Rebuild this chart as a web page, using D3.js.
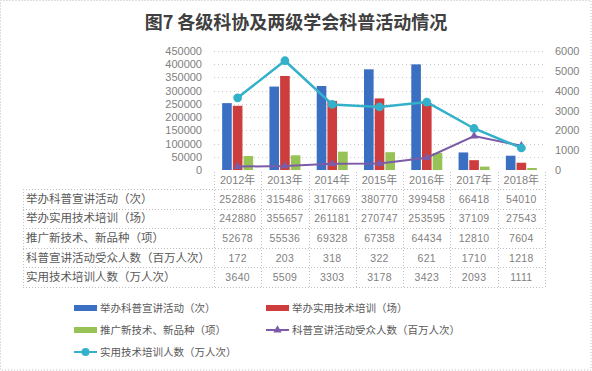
<!DOCTYPE html>
<html>
<head>
<meta charset="utf-8">
<script src="https://cdn.jsdelivr.net/npm/d3@7"></script>
<style>
  body { margin: 0; background: #fff; }
  svg { display: block; font-family: "Liberation Sans", "Noto Sans CJK SC", sans-serif; }
</style>
</head>
<body>
<div id="chart"></div>
<script>
const years = ['2012年', '2013年', '2014年', '2015年', '2016年', '2017年', '2018年'];
const seriesNames = [
  '举办科普宣讲活动（次）',
  '举办实用技术培训（场）',
  '推广新技术、新品种（项）',
  '科普宣讲活动受众人数（百万人次）',
  '实用技术培训人数（万人次）'
];
const lectures = [252886, 315486, 317669, 380770, 399458, 66418, 54010];
const trainings = [242880, 355657, 261181, 270747, 253595, 37109, 27543];
const newTech = [52678, 55536, 69328, 67358, 64434, 12810, 7604];
const audience = [172, 203, 318, 322, 621, 1710, 1218];
const trainees = [3640, 5509, 3303, 3178, 3423, 2093, 1111];
const leftTicks = [0, 50000, 100000, 150000, 200000, 250000, 300000, 350000, 400000, 450000];
const rightTicks = [0, 1000, 2000, 3000, 4000, 5000, 6000];

const colors = ['#3b6fc2', '#cd3d3d', '#97c255', '#7c5ca8', '#33b1ca'];
const barSeries = [lectures, trainings, newTech];
const lineSeries = [audience, trainees];
const tableRows = [lectures, trainings, newTech, audience, trainees];

const W = 592, H = 371;
const svg = d3.select('#chart').append('svg').attr('width', W).attr('height', H);

// outer dotted frame
svg.append('rect')
  .attr('x', 0.5).attr('y', 0.5).attr('width', W - 1.5).attr('height', H - 1.5)
  .attr('fill', 'none').attr('stroke', '#bfbfbf').attr('stroke-dasharray', '1,2');

svg.append('text')
  .attr('x', 296).attr('y', 29)
  .attr('text-anchor', 'middle')
  .attr('font-family', '"Noto Sans CJK SC", sans-serif')
  .attr('font-size', 18).attr('font-weight', 'bold').attr('fill', '#404040')
  .text('图7 各级科协及两级学会科普活动情况');

const x = d3.scaleBand().domain(years).range([214, 545]);
const yL = d3.scaleLinear().domain([0, 450000]).range([170, 51]);
const yR = d3.scaleLinear().domain([0, 6000]).range([170, 51]);
const xs = d3.scaleBand().domain(d3.range(barSeries.length))
  .range([x.bandwidth() / 2 - 15.5, x.bandwidth() / 2 + 15.5]).paddingInner(0.1);

// gridlines
svg.append('g').selectAll('line').data(leftTicks.slice(1)).join('line')
  .attr('x1', 214).attr('x2', 545)
  .attr('y1', d => Math.round(yL(d)) + 0.5).attr('y2', d => Math.round(yL(d)) + 0.5)
  .attr('stroke', '#c8c8c8').attr('stroke-dasharray', '1,3');

// axes
const gl = svg.append('g').attr('transform', 'translate(205,0)')
  .call(d3.axisLeft(yL).tickValues(leftTicks).tickSize(0).tickPadding(3).tickFormat(d3.format('d')));
const gr = svg.append('g').attr('transform', 'translate(552,0)')
  .call(d3.axisRight(yR).tickValues(rightTicks).tickSize(0).tickPadding(3).tickFormat(d3.format('d')));
[gl, gr].forEach(g => {
  g.select('.domain').remove();
  g.selectAll('text').attr('fill', '#7f7f7f').attr('font-size', 11)
    .attr('font-family', '"Liberation Sans", sans-serif');
});

// bars
barSeries.forEach((vals, i) => {
  svg.append('g').selectAll('rect').data(vals).join('rect')
    .attr('x', (d, j) => x(years[j]) + xs(i))
    .attr('y', d => yL(d))
    .attr('width', xs.bandwidth())
    .attr('height', d => yL(0) - yL(d))
    .attr('fill', colors[i]);
});

// lines
const markers = [d3.symbolTriangle, d3.symbolCircle];
lineSeries.forEach((vals, i) => {
  const c = colors[3 + i];
  const line = d3.line().x((d, j) => x(years[j]) + x.bandwidth() / 2).y(d => yR(d));
  svg.append('path').datum(vals)
    .attr('d', line).attr('fill', 'none').attr('stroke', c).attr('stroke-width', i === 0 ? 2 : 2.5);
  svg.append('g').selectAll('path').data(vals).join('path')
    .attr('transform', (d, j) => `translate(${x(years[j]) + x.bandwidth() / 2},${yR(d)})`)
    .attr('d', d3.symbol().type(markers[i]).size(i === 0 ? 30 : 60))
    .attr('fill', c);
});

// category labels
svg.append('g').selectAll('text').data(years).join('text')
  .attr('x', d => x(d) + x.bandwidth() / 2).attr('y', 184)
  .attr('text-anchor', 'middle').attr('font-size', 11).attr('fill', '#7f7f7f')
  .text(d => d);

// data table
const rowY = d3.scaleBand().domain(seriesNames).range([189, 287]);
const tbl = svg.append('g');
const hLines = seriesNames.map(n => rowY(n)).concat([rowY.range()[1]]);
tbl.selectAll('line.h').data(hLines).join('line')
  .attr('x1', 23).attr('x2', 545)
  .attr('y1', d => Math.round(d) + 0.5).attr('y2', d => Math.round(d) + 0.5)
  .attr('stroke', '#bfbfbf').attr('stroke-dasharray', '1,2');
const vLines = years.map(y => x(y)).concat([x.range()[1]]);
tbl.selectAll('line.v').data(vLines).join('line')
  .attr('x1', d => Math.round(d) + 0.5).attr('x2', d => Math.round(d) + 0.5)
  .attr('y1', 172).attr('y2', 287)
  .attr('stroke', '#bfbfbf').attr('stroke-dasharray', '1,2');
tbl.append('line').attr('x1', 23.5).attr('x2', 23.5).attr('y1', 189).attr('y2', 287)
  .attr('stroke', '#bfbfbf').attr('stroke-dasharray', '1,2');

tbl.selectAll('text.lbl').data(seriesNames).join('text')
  .attr('x', 26).attr('y', d => rowY(d) + rowY.bandwidth() / 2 + 4)
  .attr('font-family', '"Noto Sans CJK SC", sans-serif')
  .attr('font-size', 11.5).attr('fill', '#595959')
  .text(d => d);

tableRows.forEach((vals, i) => {
  tbl.append('g').selectAll('text').data(vals).join('text')
    .attr('x', (d, j) => x(years[j]) + x.bandwidth() / 2)
    .attr('y', rowY(seriesNames[i]) + rowY.bandwidth() / 2 + 4)
    .attr('text-anchor', 'middle').attr('font-size', 10.5).attr('fill', '#7f7f7f')
    .attr('letter-spacing', 0.3)
    .text(d => d);
});

// legend
const legPos = [[74, 308], [266, 308], [74, 330], [266, 330], [74, 352]];
seriesNames.forEach((name, i) => {
  const [lx, ly] = legPos[i];
  const g = svg.append('g').attr('transform', `translate(${lx},${ly})`);
  if (i < 3) {
    g.append('rect').attr('x', 0).attr('y', -3).attr('width', 23).attr('height', 6).attr('fill', colors[i]);
  } else {
    g.append('line').attr('x1', 0).attr('x2', 23).attr('y1', 0).attr('y2', 0)
      .attr('stroke', colors[i]).attr('stroke-width', 2);
    g.append('path').attr('transform', 'translate(11.5,0)')
      .attr('d', d3.symbol().type(markers[i - 3]).size(i === 3 ? 30 : 50))
      .attr('fill', colors[i]);
  }
  g.append('text').attr('x', 26).attr('y', 4)
    .attr('font-family', '"Noto Sans CJK SC", sans-serif')
    .attr('font-size', 10.5).attr('fill', '#595959')
    .text(name);
});
</script>
</body>
</html>
